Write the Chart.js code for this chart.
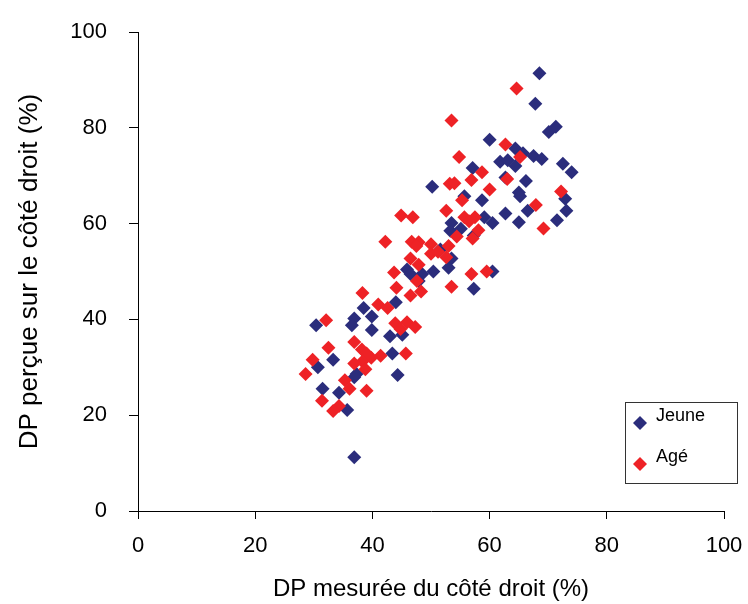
<!DOCTYPE html>
<html>
<head>
<meta charset="utf-8">
<script src="https://cdn.jsdelivr.net/npm/chart.js@4"></script>
<style>
  html, body { margin: 0; padding: 0; background: #fff; }
</style>
</head>
<body>
<canvas id="chart" width="748" height="604"></canvas>
<script>
// values
const jeuneX = [68.5, 67.8, 70.1, 71.3, 60.0, 64.4, 65.7, 67.5, 68.9, 61.8, 63.1, 64.4, 72.5, 74.0, 57.1,
  66.2, 62.7, 50.2, 65.0, 65.2, 58.7, 55.7, 72.9, 73.1, 66.5, 62.7, 59.1, 60.5, 65.0, 71.5,
  53.5, 53.3, 57.3, 55.1, 51.6, 53.5, 53.0, 50.4, 60.5, 45.9, 46.5, 48.5, 47.9, 57.3, 44.0,
  38.5, 39.9, 36.9, 36.5, 30.4, 39.9, 43.0, 45.1, 43.4, 33.3, 30.7, 36.9, 37.3, 44.3, 31.5,
  34.3, 35.7, 36.9];
const jeuneY = [91.4, 85.0, 79.1, 80.2, 77.5, 75.7, 74.7, 74.1, 73.5, 72.9, 73.2, 72.0, 72.5, 70.7, 71.6,
  68.9, 69.6, 67.7, 66.5, 65.7, 64.9, 65.7, 65.2, 62.7, 62.7, 62.1, 61.3, 60.1, 60.3, 60.7,
  60.1, 58.5, 57.5, 58.9, 54.6, 52.7, 50.8, 50.0, 50.0, 50.4, 49.5, 49.5, 48.0, 46.4, 43.6,
  42.4, 40.6, 40.2, 38.8, 38.8, 37.8, 36.5, 36.8, 32.9, 31.6, 30.0, 27.9, 28.6, 28.4, 25.5,
  24.7, 21.1, 11.2];

const ageX = [64.6, 53.5, 62.7, 54.8, 65.2, 58.7, 56.9, 63.0, 53.2, 54.0, 60.0, 72.2, 55.3, 67.9, 52.6,
  44.9, 46.9, 55.7, 57.5, 56.5, 69.2, 58.1, 54.4, 57.1, 42.2, 46.7, 47.9, 50.0, 47.5, 53.0,
  50.0, 51.2, 46.5, 52.6, 47.9, 43.7, 56.9, 59.5, 47.6, 44.1, 53.5, 48.3, 46.5, 38.3, 41.0,
  42.6, 32.1, 43.9, 45.9, 47.3, 44.8, 36.9, 32.5, 38.2, 39.0, 41.4, 45.7, 39.8, 38.3, 29.8,
  36.9, 38.8, 28.6, 35.3, 36.1, 39.0, 31.4, 34.3, 33.3];
const ageY = [88.2, 81.5, 76.5, 73.9, 73.9, 70.7, 69.1, 69.3, 68.3, 68.4, 67.1, 66.7, 64.9, 63.9, 62.7,
  61.7, 61.3, 61.3, 61.3, 60.5, 59.0, 58.6, 57.3, 56.9, 56.2, 56.2, 56.1, 55.7, 55.3, 55.3,
  53.7, 54.1, 52.7, 53.0, 51.4, 49.8, 49.5, 50.0, 48.0, 46.6, 46.8, 45.8, 45.0, 45.5, 43.1,
  42.4, 39.8, 39.2, 39.4, 38.4, 38.0, 35.3, 34.1, 33.7, 32.9, 32.4, 32.9, 32.0, 31.2, 31.6,
  30.8, 29.6, 28.6, 27.3, 25.5, 25.1, 23.0, 21.9, 20.9];

const seriesNames = ["Jeune", "Agé"];
const xTitle = "DP mesurée du côté droit (%)";
const yTitle = "DP perçue sur le côté droit (%)";

const BLUE = "#2b2d7c";
const RED = "#ee2226";
const FONT = "'Liberation Sans', Arial, Helvetica, sans-serif";

function toPoints(xs, ys) {
  return xs.map((x, i) => ({ x, y: ys[i] }));
}

// legend drawn as a framed box in the lower right, like the original
const boxLegend = {
  id: "boxLegend",
  afterDraw(chart) {
    const ctx = chart.ctx;
    ctx.save();
    ctx.strokeStyle = "#333";
    ctx.lineWidth = 1;
    ctx.strokeRect(625.5, 402.5, 112, 81);
    const rows = [423, 464];
    chart.data.datasets.forEach((ds, i) => {
      const cy = rows[i];
      ctx.fillStyle = ds.backgroundColor;
      ctx.beginPath();
      ctx.moveTo(633, cy);
      ctx.lineTo(640, cy - 7);
      ctx.lineTo(647, cy);
      ctx.lineTo(640, cy + 7);
      ctx.closePath();
      ctx.fill();
      ctx.fillStyle = "#000";
      ctx.font = "18px " + FONT;
      ctx.textBaseline = "middle";
      ctx.fillText(ds.label, 656, cy - 7);
    });
    ctx.restore();
  }
};

const ctx = document.getElementById("chart").getContext("2d");
new Chart(ctx, {
  type: "scatter",
  data: {
    datasets: [
      {
        label: seriesNames[0],
        data: toPoints(jeuneX, jeuneY),
        backgroundColor: BLUE,
        borderColor: BLUE,
        borderWidth: 0,
        pointStyle: "rectRot",
        pointRadius: 7,
        order: 2
      },
      {
        label: seriesNames[1],
        data: toPoints(ageX, ageY),
        backgroundColor: RED,
        borderColor: RED,
        borderWidth: 0,
        pointStyle: "rectRot",
        pointRadius: 7,
        order: 1
      }
    ]
  },
  options: {
    responsive: false,
    animation: false,
    layout: { padding: { left: 0, top: 32, right: 24, bottom: 0 } },
    plugins: {
      legend: { display: false },
      tooltip: { enabled: false }
    },
    scales: {
      x: {
        type: "linear",
        min: 0,
        max: 100,
        afterFit: (s) => { s.height = 93; s.paddingLeft = 0; s.paddingRight = 0; },
        ticks: { stepSize: 20, color: "#000", padding: 14, font: { family: FONT, size: 22 } },
        grid: { drawOnChartArea: false, drawTicks: true, tickLength: 8, color: "#000" },
        border: { display: true, color: "#000", width: 1 },
        title: {
          display: true,
          text: xTitle,
          color: "#000",
          font: { family: FONT, size: 24 },
          padding: { top: 0, bottom: 0 }
        }
      },
      y: {
        type: "linear",
        min: 0,
        max: 100,
        afterFit: (s) => { s.width = 138; s.paddingTop = 0; s.paddingBottom = 0; },
        ticks: { stepSize: 20, color: "#000", padding: 22, font: { family: FONT, size: 22 } },
        grid: { drawOnChartArea: false, drawTicks: true, tickLength: 9, color: "#000" },
        border: { display: true, color: "#000", width: 1 },
        title: {
          display: true,
          text: yTitle,
          color: "#000",
          font: { family: FONT, size: 26 },
          padding: { top: 14, bottom: 0 }
        }
      }
    }
  },
  plugins: [boxLegend]
});
</script>
</body>
</html>
